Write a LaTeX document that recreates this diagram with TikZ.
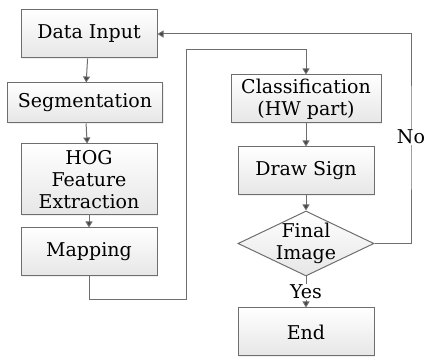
\documentclass[tikz,border=0pt]{standalone}
\usepackage{fontspec}
\setmainfont{DejaVu Serif}
\usepackage{tikz}
\usetikzlibrary{arrows.meta, positioning, shapes.geometric, shadows}
\definecolor{fcline}{HTML}{6E6E6E}
\definecolor{fctip}{HTML}{404040}
\definecolor{fcfill}{HTML}{E6E6E6}

\begin{document}
\begin{tikzpicture}[x=1pt, y=1pt,
  stepbox/.style={rectangle, draw=fcline, line width=1pt, top color=white, bottom color=fcfill,
    minimum width=136pt, minimum height=48pt, inner sep=2pt, align=center,
    font=\fontsize{19}{22}\selectfont,
    drop shadow={shadow xshift=1.2pt, shadow yshift=-1.2pt, fill=black!12}},
  decision/.style={diamond, draw=fcline, line width=1pt, top color=white, bottom color=fcfill,
    minimum width=136pt, minimum height=65pt, inner sep=-8pt, shape aspect=2.1, align=center,
    font=\fontsize{19}{22}\selectfont},
  flow/.style={draw=fcline, line width=1pt, -{Triangle[length=6pt, width=7pt, fill=fctip]}},
  tag/.style={fill=white, inner sep=1pt, font=\fontsize{19}{22}\selectfont},
]
  \useasboundingbox (0,0) rectangle (424,-358);

  % left column
  \node[stepbox] (input) at (89,-34) {Data Input};
  \node[stepbox, minimum width=155pt, minimum height=40pt] (seg) at (85,-103) {Segmentation};
  \node[stepbox, minimum height=71pt] (hog) at (89,-179.5) {HOG\\Feature\\Extraction};
  \node[stepbox] (map) at (89,-252) {Mapping};

  % right column
  \node[stepbox, minimum width=150pt] (cls) at (306,-99) {Classification\\(HW part)};
  \node[stepbox] (sign) at (306,-171) {Draw Sign};
  \node[decision] (final) at (306,-243.5) {Final\\Image};
  \node[stepbox] (end) at (306,-332) {End};

  \coordinate (m1) at (186,-300);
  \coordinate (m2) at (186,-50);
  \coordinate (n1) at (411,-137);

  \draw[flow] (input) -- (seg);
  \draw[flow] (seg) -- (hog);
  \draw[flow] (hog) -- (map);
  \draw[flow] (map.south) |- (m1) -- (m2) -| (cls.north);
  \draw[flow] (cls) -- (sign);
  \draw[flow] (sign) -- (final);
  \draw[flow] (final) -- node[tag] {Yes} (end);
  \draw[flow] (final.east) -| (n1) |- (input.east);
  \node[tag] at (n1) {No};
\end{tikzpicture}
\end{document}
